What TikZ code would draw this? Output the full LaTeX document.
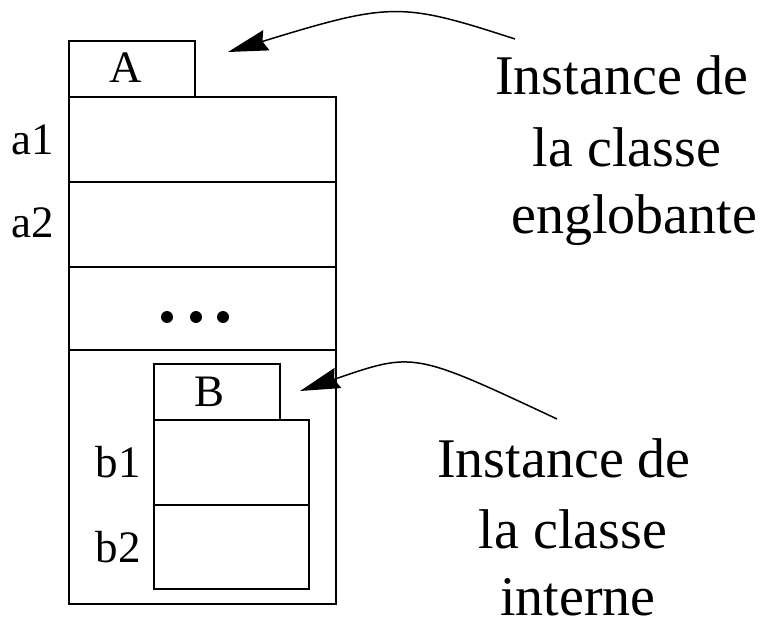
\documentclass[tikz,border=0pt]{standalone}
\usepackage{fontspec}
\setmainfont{Liberation Serif}
\usetikzlibrary{arrows.meta}
\begin{document}
\begin{tikzpicture}[x=1pt,y=-1pt,
  box/.style={draw, line width=1.3pt},
  lbl/.style={font=\fontsize{45}{54}\selectfont, anchor=base, inner sep=0pt},
  note/.style={font=\fontsize{56}{67}\selectfont, anchor=base, inner sep=0pt},
  pointer/.style={line width=1.5pt, -{Stealth[length=40pt,width=21pt,inset=4pt]}},
  dotmark/.style={fill=black, circle, inner sep=0pt, minimum size=12pt}]
\useasboundingbox (0,0) rectangle (763,623);
% outer class
\draw[box] (69,41) rectangle (195,97);
\draw[box] (69,97) rectangle (336,604);
\draw[box] (69,182) -- (336,182);
\draw[box] (69,267) -- (336,267);
\draw[box] (69,350) -- (336,350);
\node[lbl] (A) at (126,83) {A};
\node[lbl] (a1) at (33,154) {a1};
\node[lbl] (a2) at (33,237) {a2};
\node[dotmark] (d1) at (167,317) {};
\node[dotmark] (d2) at (196,317) {};
\node[dotmark] (d3) at (223,317) {};
% inner class
\draw[box] (154,364) rectangle (280,420);
\draw[box] (154,420) rectangle (309,589);
\draw[box] (154,505) -- (309,505);
\node[lbl] (B) at (210,406) {B};
\node[lbl] (b1) at (118,477) {b1};
\node[lbl] (b2) at (118,562) {b2};
% notes
\node[note] (n1a) at (622,95) {Instance de};
\node[note] (n1b) at (627,167) {la classe};
\node[note] (n1c) at (634,233) {englobante};
\node[note] (n2a) at (564,477) {Instance de};
\node[note] (n2b) at (573,548) {la classe};
\node[note] (n2c) at (578,615) {interne};
% arrows
\coordinate (s1) at (515,39);
\coordinate (t1) at (228,52);
\coordinate (s2) at (557,419);
\coordinate (t2) at (300,391);
\draw[pointer] (s1) .. controls (401,2) and (391,2) .. (t1);
\draw[pointer] (s2) .. controls (412,351) and (414,352) .. (t2);
\end{tikzpicture}
\end{document}
